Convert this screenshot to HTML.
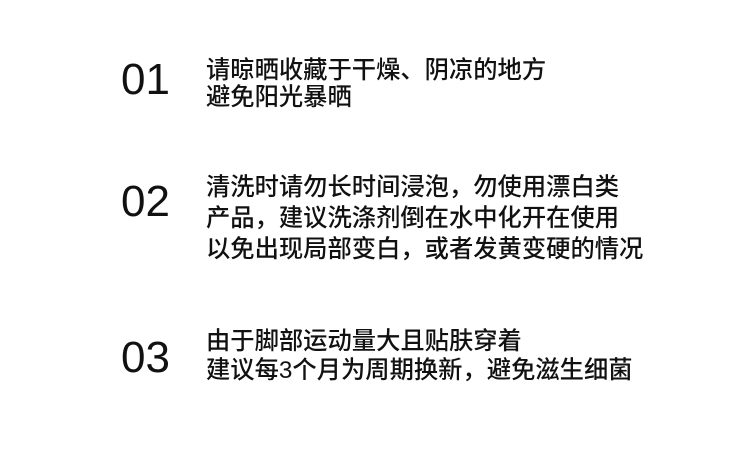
<!DOCTYPE html>
<html><head><meta charset="utf-8"><style>
html,body{margin:0;padding:0;background:#fff;}
body{width:750px;height:452px;position:relative;overflow:hidden;color:#111;}
.n{position:absolute;left:121px;font-family:"Liberation Sans",sans-serif;font-size:44px;line-height:44px;height:44px;}
.t{position:absolute;left:206px;font-family:"Liberation Sans","Noto Sans CJK SC",sans-serif;font-size:24.3px;font-weight:500;white-space:nowrap;}
.t div{height:0;position:relative;}
.t span{position:absolute;left:0;transform:translateY(-50%);line-height:30px;}
</style></head><body>
<div class="n" style="top:58px">01</div>
<div class="t" style="top:0">
<div style="top:71px"><span>请晾晒收藏于干燥、阴凉的地方</span></div>
<div style="top:98px"><span>避免阳光暴晒</span></div>
</div>
<div class="n" style="top:180px">02</div>
<div class="t" style="top:0">
<div style="top:188px"><span>清洗时请勿长时间浸泡，勿使用漂白类</span></div>
<div style="top:219px"><span>产品，建议洗涤剂倒在水中化开在使用</span></div>
<div style="top:250px"><span>以免出现局部变白，或者发黄变硬的情况</span></div>
</div>
<div class="n" style="top:336px">03</div>
<div class="t" style="top:0">
<div style="top:342px"><span>由于脚部运动量大且贴肤穿着</span></div>
<div style="top:371px"><span>建议每3个月为周期换新，避免滋生细菌</span></div>
</div>
</body></html>
